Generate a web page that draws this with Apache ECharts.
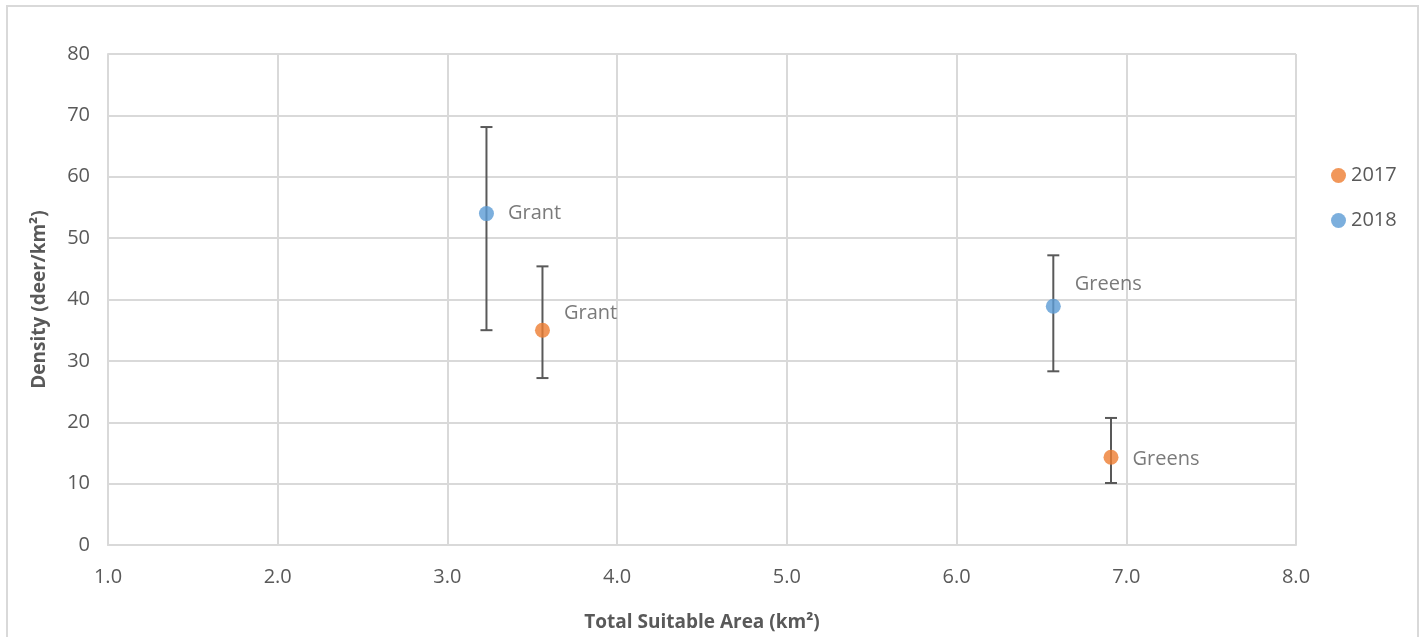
<!DOCTYPE html>
<html lang="en">
<head>
    <meta charset="UTF-8">
    <title>Deer density</title>
    <script src="https://cdn.jsdelivr.net/npm/echarts@6/dist/echarts.min.js"></script>
</head>
<body style="margin:0">
    <div id="main" style="width: 1427px; height: 637px;"></div>
    <script>
        // values
        const sites = ['Grant', 'Greens'];
        const area2017 = [3.56, 6.91];
        const density2017 = [35.0, 14.3];
        const low2017 = [27.2, 10.1];
        const high2017 = [45.4, 20.7];
        const area2018 = [3.23, 6.57];
        const density2018 = [54.0, 38.9];
        const low2018 = [35.0, 28.3];
        const high2018 = [68.1, 47.2];

        const textColor = '#595959';
        const font = 'Open Sans';

        // label nudges per point (Grant, Greens)
        const labelOffset2017 = [[0, -17], [0, 2]];
        const labelOffset2018 = [[0, 0], [0, -22]];

        function points(xs, ys, offsets) {
            return xs.map(function (x, i) {
                return {
                    value: [x, ys[i]],
                    name: sites[i],
                    label: { offset: offsets[i] }
                };
            });
        }

        function bars(xs, lo, hi) {
            return xs.map(function (x, i) {
                return [x, lo[i], hi[i]];
            });
        }

        function errorBar(params, api) {
            const top = api.coord([api.value(0), api.value(2)]);
            const bot = api.coord([api.value(0), api.value(1)]);
            const cap = 6;
            const style = { stroke: '#595959', lineWidth: 2 };
            return {
                type: 'group',
                children: [
                    { type: 'line', shape: { x1: top[0], y1: top[1], x2: bot[0], y2: bot[1] }, style: style },
                    { type: 'line', shape: { x1: top[0] - cap, y1: top[1], x2: top[0] + cap, y2: top[1] }, style: style },
                    { type: 'line', shape: { x1: bot[0] - cap, y1: bot[1], x2: bot[0] + cap, y2: bot[1] }, style: style }
                ]
            };
        }

        const pointLabel = {
            show: true,
            position: 'right',
            distance: 14,
            formatter: '{b}',
            color: textColor,
            fontFamily: font,
            fontSize: 20
        };

        var myChart = echarts.init(document.getElementById('main'));
        var option = {
            animation: false,
            color: ['#ED7D31', '#5B9BD5'],
            textStyle: { fontFamily: font },
            graphic: [{
                type: 'rect',
                shape: { x: 7, y: 6, width: 1411, height: 640 },
                style: { fill: 'none', stroke: '#d9d9d9', lineWidth: 2 },
                silent: true
            }],
            grid: { left: 108, right: 131, top: 54, bottom: 91 },
            legend: {
                orient: 'vertical',
                left: 1326,
                top: 158,
                itemGap: 20,
                itemWidth: 15,
                itemHeight: 15,
                icon: 'circle',
                data: ['2017', '2018'],
                textStyle: { color: textColor, fontFamily: font, fontSize: 20, lineHeight: 25 }
            },
            xAxis: {
                type: 'value',
                min: 1,
                max: 8,
                interval: 1,
                name: 'Total Suitable Area (km²)',
                nameLocation: 'middle',
                nameGap: 68,
                nameTextStyle: { color: textColor, fontFamily: font, fontSize: 19, fontWeight: 'bold' },
                axisLine: { show: true, lineStyle: { color: '#d9d9d9', width: 2 } },
                axisTick: { show: false },
                axisLabel: {
                    color: textColor, fontFamily: font, fontSize: 20, margin: 22,
                    formatter: function (v) { return v.toFixed(1); }
                },
                splitLine: { show: true, lineStyle: { color: '#d9d9d9', width: 2 } }
            },
            yAxis: {
                type: 'value',
                min: 0,
                max: 80,
                interval: 10,
                name: 'Density (deer/km²)',
                nameLocation: 'middle',
                nameGap: 59,
                nameTextStyle: { color: textColor, fontFamily: font, fontSize: 19, fontWeight: 'bold' },
                axisLine: { show: true, lineStyle: { color: '#d9d9d9', width: 2 } },
                axisTick: { show: false },
                axisLabel: { color: textColor, fontFamily: font, fontSize: 20, margin: 18 },
                splitLine: { show: true, lineStyle: { color: '#d9d9d9', width: 2 } }
            },
            series: [
                {
                    name: '2017',
                    type: 'scatter',
                    z: 3,
                    symbolSize: 15,
                    label: pointLabel,
                    data: points(area2017, density2017, labelOffset2017)
                },
                {
                    name: '2018',
                    type: 'scatter',
                    z: 3,
                    symbolSize: 15,
                    label: pointLabel,
                    data: points(area2018, density2018, labelOffset2018)
                },
                {
                    type: 'custom',
                    z: 2,
                    silent: true,
                    renderItem: errorBar,
                    data: bars(area2017, low2017, high2017)
                },
                {
                    type: 'custom',
                    z: 2,
                    silent: true,
                    renderItem: errorBar,
                    data: bars(area2018, low2018, high2018)
                }
            ]
        };
        myChart.setOption(option);
    </script>
</body>
</html>
